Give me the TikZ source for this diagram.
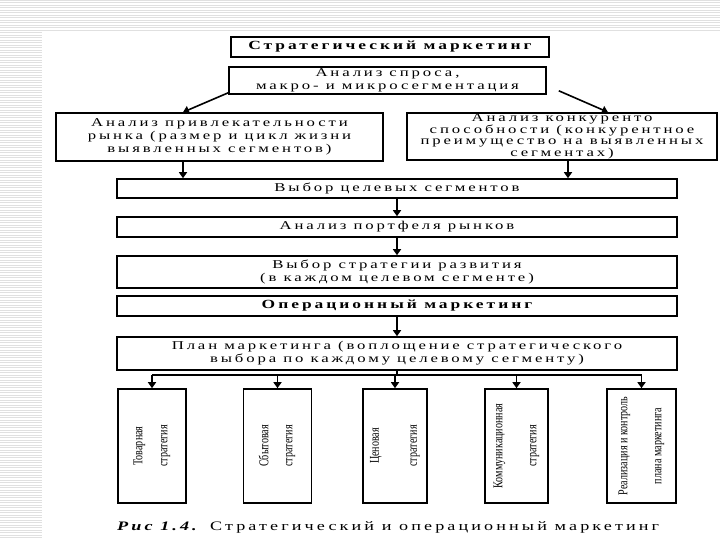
\documentclass[tikz,border=0pt]{standalone}
\usepackage{fontspec}
\setmainfont{Liberation Serif}
\newfontfamily\wideserif[FakeStretch=1.4,LetterSpace=24]{Liberation Serif}
\newfontfamily\tallserif[FakeStretch=0.75]{Liberation Serif}
\definecolor{mStripe}{HTML}{E0E0E0}
\usetikzlibrary{arrows.meta, positioning}

\begin{document}
\begin{tikzpicture}[x=1bp, y=-1bp,
  box/.style={draw, line width=1.6bp, inner sep=0pt, align=center,
    font=\wideserif\fontsize{12}{13}\selectfont},
  head/.style={box, font=\wideserif\bfseries\fontsize{12.5}{13}\selectfont},
  vbox/.style={draw, line width=1.6bp, inner sep=0pt, minimum height=114bp,
    font=\tallserif\fontsize{13.5}{14}\selectfont},
  link/.style={line width=1.6bp},
  arr/.style={link, -{Triangle[width=8bp,length=6bp]}}]
  \useasboundingbox (0,0) rectangle (720,540);
  % slide background stripes
  \foreach \s in {0,2.5,...,540}
    \draw[mStripe, line width=0.7bp] (0,\s) -- (42,\s);
  \foreach \s in {0,2.5,...,32}
    \draw[mStripe, line width=0.7bp] (42,\s) -- (720,\s);

  \node[head, minimum width=318bp, minimum height=20bp] (strat) at (390,47) {Стратегический маркетинг};
  \node[box, minimum width=317bp, minimum height=27bp] (spros) at (387.5,80.5) {Анализ спроса,\\макро- и микросегментация};
  \node[box, minimum width=327bp, minimum height=48bp] (privl) at (219.5,137) {Анализ привлекательности\\рынка (размер и цикл жизни\\выявленных сегментов)};
  \node[box, minimum width=310bp, minimum height=47bp, font=\wideserif\fontsize{12}{11.6}\selectfont] (konk) at (562,136.5) {Анализ конкуренто\\способности (конкурентное\\преимущество на выявленных\\сегментах)};
  \node[box, minimum width=560bp, minimum height=19bp] (celi) at (397,188.5) {Выбор целевых сегментов};
  \node[box, minimum width=560bp, minimum height=20bp] (portf) at (397,227) {Анализ портфеля рынков};
  \node[box, minimum width=560bp, minimum height=32bp] (razv) at (397,272) {Выбор стратегии развития\\(в каждом целевом сегменте)};
  \node[head, minimum width=560bp, minimum height=20bp] (oper) at (397,306) {Операционный маркетинг};
  \node[box, minimum width=560bp, minimum height=33bp] (plan) at (397,353.5) {План маркетинга (воплощение стратегического\\выбора по каждому целевому сегменту)};

  \foreach \n/\x/\w/\g/\ta/\tb in {tov/152/68/11/Товарная/стратегия,
      sbyt/277.5/68/10/Сбытовая/стратегия, cena/395/64/24/Ценовая/стратегия,
      komm/516.5/63/20/Коммуникационная/стратегия,
      real/641.5/69/20/Реализация и контроль/плана маркетинга}{
    \node[vbox, minimum width=\w bp] (\n) at (\x,446)
      {\rotatebox{90}{\begin{tabular}{@{}c@{}}\ta\\[\g bp]\tb\end{tabular}}};}

  \node[anchor=west, inner sep=0pt, font=\wideserif\fontsize{13}{14}\selectfont] (cap) at (117,527)
    {\textbf{\textit{Рис 1.4.}} Стратегический и операционный маркетинг};

  \draw[arr] ([yshift=2bp]spros.south west) -- ([xshift=-36.5bp]privl.north);
  \draw[arr] ([xshift=12bp,yshift=4bp]spros.south east) -- ([xshift=46bp]konk.north);
  \draw[arr] ([xshift=-36.5bp]privl.south) -- ([xshift=-36.5bp]privl.south |- celi.north);
  \draw[arr] ([xshift=6bp]konk.south) -- ([xshift=6bp]konk.south |- celi.north);
  \draw[arr] (celi) -- (portf);
  \draw[arr] (portf) -- (razv);
  \draw[arr] (oper) -- (plan);
  \coordinate (bus) at (397,375);
  \draw[link] (plan.south) -- (bus);
  \draw[link] (tov.north |- bus) -- (real.north |- bus);
  \foreach \n in {tov,sbyt,cena,komm,real}
    \draw[arr] (\n.north |- bus) -- (\n.north);
\end{tikzpicture}
\end{document}
